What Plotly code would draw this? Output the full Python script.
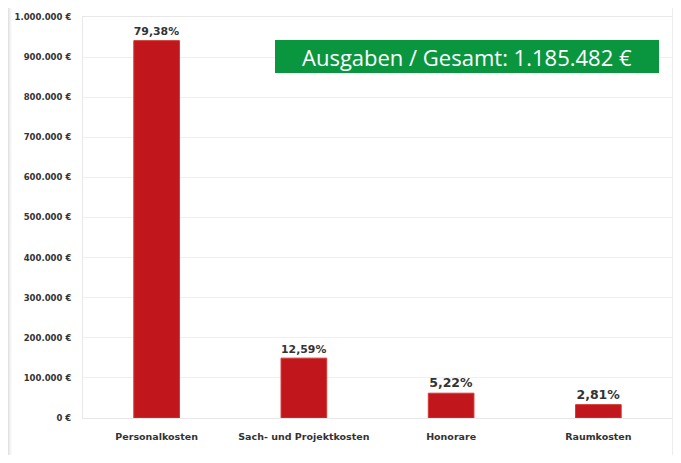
import plotly.graph_objects as go

categories = ["Personalkosten", "Sach- und Projektkosten", "Honorare", "Raumkosten"]
values = [941036, 149252, 61882, 33312]
percent_labels = ["79,38%", "12,59%", "5,22%", "2,81%"]
tick_values = [0, 100000, 200000, 300000, 400000, 500000, 600000, 700000, 800000, 900000, 1000000]
tick_labels = ["0 €", "100.000 €", "200.000 €", "300.000 €", "400.000 €", "500.000 €",
               "600.000 €", "700.000 €", "800.000 €", "900.000 €", "1.000.000 €"]
total_label = "Ausgaben / Gesamt: 1.185.482 €"

# page has an 8px body margin, so the figure is placed at (8, 8)
OFF = 8
W, H = 681 - OFF, 463 - 2 * OFF
L, R, T = 83 - OFF, 9, 17 - OFF
B = H - (418 - OFF)
pw, ph = W - L - R, H - T - B

def px_x(p):
    return (p - OFF - L) / pw

def px_y(p):
    return 1 - (p - OFF - T) / ph

fig = go.Figure()
fig.add_trace(go.Bar(
    x=categories, y=values,
    text=percent_labels, textposition="outside", cliponaxis=False,
    textfont=dict(family="DejaVu Sans", size=12.5, color="#333333", weight="bold"),
    marker=dict(color="#c1161b", line=dict(color="#d23a30", width=1)),
    width=0.31,
))

shapes = []
# card shadow strips (left)
for i, c in enumerate(["#e2e2e2", "#ececec", "#f4f4f4", "#fafafa"]):
    shapes.append(dict(type="rect", xref="paper", yref="paper", layer="below",
                       x0=px_x(OFF + i), x1=px_x(OFF + i + 1), y0=px_y(455), y1=px_y(OFF),
                       fillcolor=c, line=dict(width=0)))
# card shadow strips (right)
for i, c in enumerate(["#ececec", "#dedede", "#d4d4d4", "#d0d0d0"]):
    shapes.append(dict(type="rect", xref="paper", yref="paper", layer="above",
                       x0=px_x(672 + i * 2), x1=px_x(674 + i * 2 if i < 3 else 681), y0=px_y(455), y1=px_y(OFF),
                       fillcolor=c, line=dict(width=0)))
# green total box
shapes.append(dict(type="rect", xref="paper", yref="paper",
                   x0=px_x(275), x1=px_x(659), y0=px_y(73), y1=px_y(40),
                   fillcolor="#0a963f", line=dict(width=0)))

fig.update_layout(
    width=W, height=H,
    margin=dict(l=L, r=R, t=T, b=B, autoexpand=False),
    paper_bgcolor="white", plot_bgcolor="white",
    showlegend=False,
    shapes=shapes,
    annotations=[dict(text=total_label, xref="paper", yref="paper",
                      x=px_x(467), y=px_y(56.5), showarrow=False,
                      xanchor="center", yanchor="middle",
                      font=dict(family="Open Sans", size=22, color="white"))],
    bargap=0.69,
)
fig.update_yaxes(range=[0, 1000000], tickvals=tick_values, ticktext=tick_labels,
                 tickfont=dict(family="DejaVu Sans", size=8.5, color="#333333", weight="bold"),
                 gridcolor="#efefef", gridwidth=1, zeroline=False, automargin=False,
                 showline=True, linecolor="#e8e8e8", mirror=True, ticks="", ticklabelstandoff=9)
fig.update_xaxes(tickfont=dict(family="DejaVu Sans", size=9.5, color="#333333", weight="bold"),
                 showline=True, linecolor="#e8e8e8", mirror=True, automargin=False,
                 ticklabelstandoff=10)

fig.write_html("out.html")
